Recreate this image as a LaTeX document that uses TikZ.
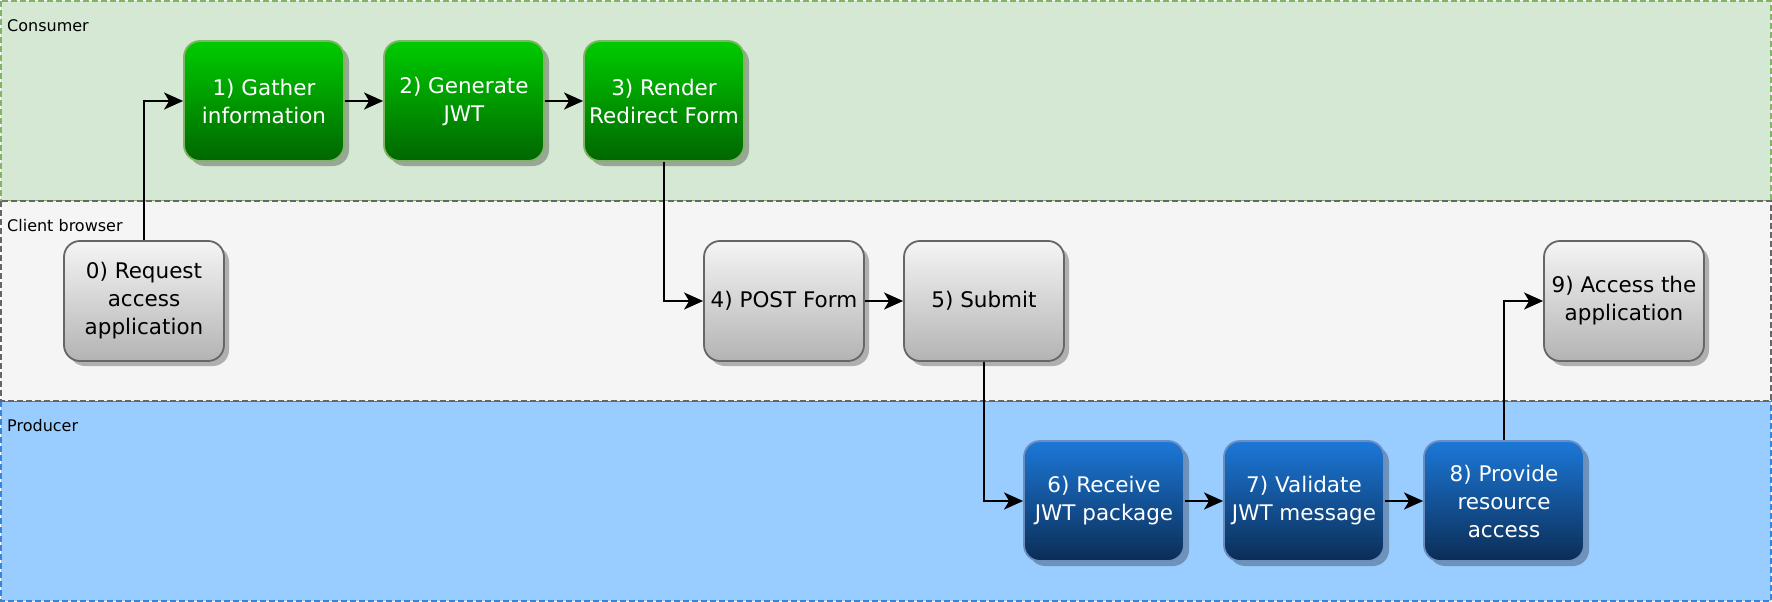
\documentclass[tikz,border=0pt]{standalone}
\usepackage{fontspec}
\setmainfont{DejaVu Sans}
\usetikzlibrary{arrows.meta,shadows}
\definecolor{consfill}{HTML}{D5E8D4}
\definecolor{consline}{HTML}{82B366}
\definecolor{clifill}{HTML}{F5F5F5}
\definecolor{cliline}{HTML}{666666}
\definecolor{prodfill}{HTML}{99CCFF}
\definecolor{prodline}{HTML}{3A84D8}
\definecolor{gtop}{HTML}{00CC00}
\definecolor{gbot}{HTML}{006600}
\definecolor{gline}{HTML}{82B366}
\definecolor{ytop}{HTML}{F5F5F5}
\definecolor{ybot}{HTML}{B3B3B3}
\definecolor{yline}{HTML}{666666}
\definecolor{btop}{HTML}{1C78D8}
\definecolor{bbot}{HTML}{0B2D56}
\definecolor{bline}{HTML}{6C8EBF}
\begin{document}
\begin{tikzpicture}[x=1pt,y=-1pt,
  lanebox/.style={line width=1.5pt, dash pattern=on 6pt off 3pt},
  lanelabel/.style={anchor=west, inner sep=0pt, font=\fontsize{16}{19}\selectfont},
  box/.style={rounded corners=16pt, line width=1.8pt, minimum width=160pt,
    minimum height=120pt, inner sep=0pt, align=center,
    font=\fontsize{21.5}{28}\selectfont,
    drop shadow={shadow xshift=5pt, shadow yshift=-5pt, opacity=0.28, fill=black}},
  greenbox/.style={box, draw=gline, top color=gtop, bottom color=gbot, text=white},
  greybox/.style={box, draw=yline, top color=ytop, bottom color=ybot, text=black},
  bluebox/.style={box, draw=bline, top color=btop, bottom color=bbot, text=white},
  conn/.style={line width=2.2pt, draw=black, -{Stealth[length=19pt,width=17pt,inset=5pt]}}
]
\useasboundingbox (0,0) rectangle (1772,602);
% lanes
\draw[lanebox, fill=consfill, draw=consline] (1,1) rectangle (1771,201);
\draw[lanebox, fill=prodfill, draw=prodline] (1,401) rectangle (1771,601);
\draw[lanebox, fill=clifill, draw=cliline] (1,201) rectangle (1771,401);
\node[lanelabel] (lcons) at (7,26) {Consumer};
\node[lanelabel] (lcli) at (7,226) {Client browser};
\node[lanelabel] (lprod) at (7,426) {Producer};
% nodes
\node[greybox] (n0) at (144,301) {0) Request\\access\\application};
\node[greenbox] (n1) at (264,101) {1) Gather\\information};
\node[greenbox] (n2) at (464,101) {2) Generate\\JWT};
\node[greenbox] (n3) at (664,101) {3) Render\\Redirect Form};
\node[greybox] (n4) at (784,301) {4) POST Form};
\node[greybox] (n5) at (984,301) {5) Submit};
\node[bluebox] (n6) at (1104,501) {6) Receive\\JWT package};
\node[bluebox] (n7) at (1304,501) {7) Validate\\JWT message};
\node[bluebox] (n8) at (1504,501) {8) Provide\\resource\\access};
\node[greybox] (n9) at (1624,301) {9) Access the\\application};
% connectors
\draw[conn] (n0.north) |- (n1.west);
\draw[conn] (n1) -- (n2);
\draw[conn] (n2) -- (n3);
\draw[conn] (n3.south) |- (n4.west);
\draw[conn] (n4) -- (n5);
\draw[conn] (n5.south) |- (n6.west);
\draw[conn] (n6) -- (n7);
\draw[conn] (n7) -- (n8);
\draw[conn] (n8.north) |- (n9.west);
\end{tikzpicture}
\end{document}
